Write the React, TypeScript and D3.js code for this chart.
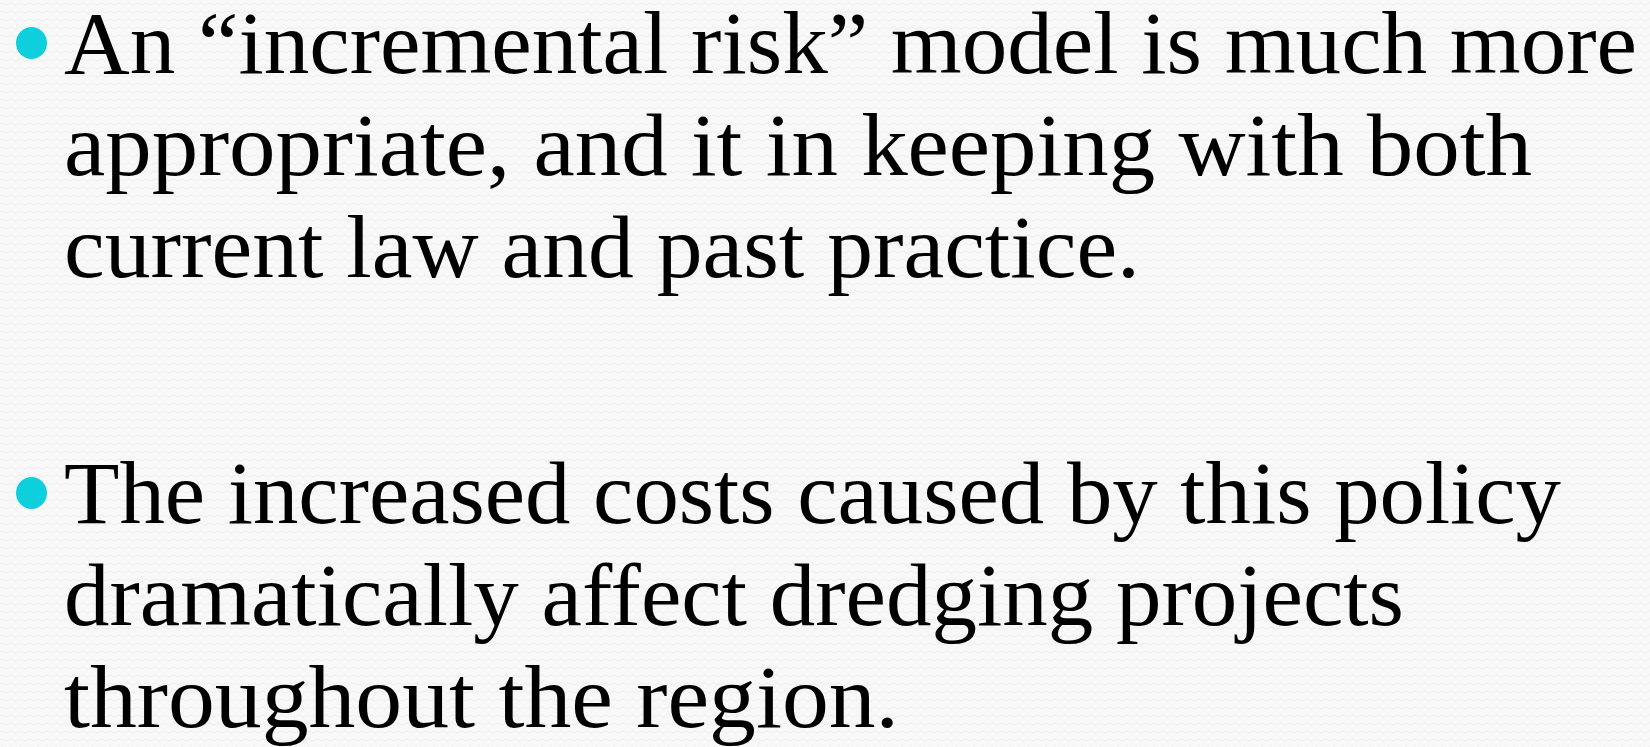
import React from "react";
import * as d3 from "d3";

const bullets: string[][] = [
  ["An \u201cincremental risk\u201d model is much more", "appropriate, and it in keeping with both", "current law and past practice."],
  ["The increased costs caused by this policy", "dramatically affect dredging projects", "throughout the region."],
];
const lineWidths: number[][] = [
  [1573, 1468, 1076],
  [1497, 1340, 835],
];
const blockTops = [73, 523];

const W = 1650;
const H = 747;

export default function App() {
  const lineStep = 102;
  const y = d3.scaleLinear().domain([0, 1]).range([0, lineStep]);
  return (
    <svg
      width={W}
      height={H}
      style={{ position: "fixed", left: 0, top: 0 }}
      xmlns="http://www.w3.org/2000/svg"
    >
      <defs>
        <pattern id="wave" width={9} height={8} patternUnits="userSpaceOnUse">
          <rect width={9} height={8} fill="#f8f8f8" />
          <path d="M0 4 Q2.25 1.5 4.5 4 T9 4" fill="none" stroke="#ededed" strokeWidth={1} />
        </pattern>
      </defs>
      <rect width={W} height={H} fill="url(#wave)" />
      {bullets.map((lines, bi) => (
        <g key={bi}>
          <ellipse cx={31.5} cy={blockTops[bi] - 30} rx={15.5} ry={16} fill="#0dd0dc" />
          {lines.map((ln, li) => (
            <text
              key={li}
              x={64}
              y={blockTops[bi] + y(li)}
              fontFamily="'Liberation Serif', 'DejaVu Serif', serif"
              fontSize={88}
              fill="#000"
              textLength={lineWidths[bi][li]}
              lengthAdjust="spacingAndGlyphs"
            >
              {ln}
            </text>
          ))}
        </g>
      ))}
    </svg>
  );
}
